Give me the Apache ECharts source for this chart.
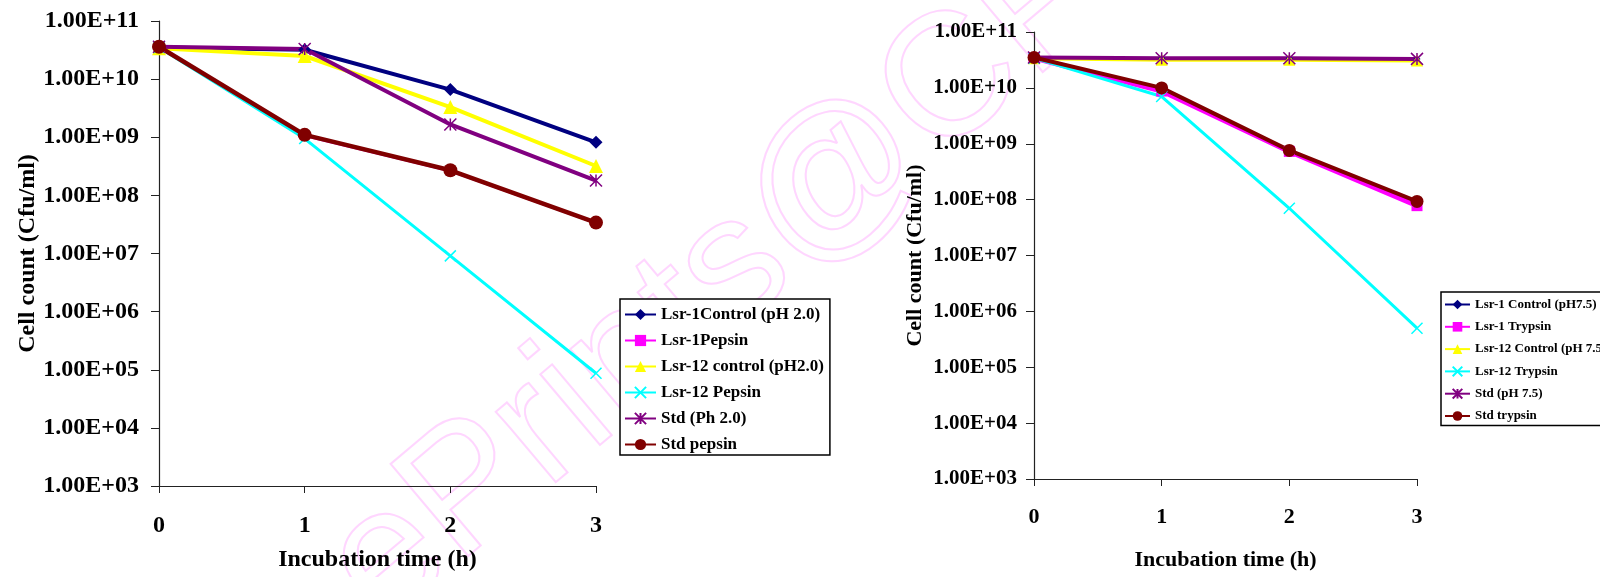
<!DOCTYPE html>
<html>
<head>
<meta charset="utf-8">
<script src="https://cdn.jsdelivr.net/npm/echarts@6/dist/echarts.min.js"></script>
<style>
  html, body { margin: 0; padding: 0; background: #fff; }
  #main { width: 1600px; height: 577px; }
</style>
</head>
<body>
<div id="main"></div>
<script>
// incubation time (h)
var hours = [0, 1, 2, 3];
var yTickLabels = ["1.00E+03", "1.00E+04", "1.00E+05", "1.00E+06", "1.00E+07",
  "1.00E+08", "1.00E+09", "1.00E+10", "1.00E+11"];

// left panel: pepsin, pH 2.0 (Cfu/ml)
var leftNames = ["Lsr-1Control (pH 2.0)", "Lsr-1Pepsin", "Lsr-12 control (pH2.0)",
  "Lsr-12 Pepsin", "Std (Ph 2.0)", "Std pepsin"];
var lsr1ControlPH2 = [3.5e10, 3.2e10, 6.6e9, 8.2e8];
var lsr1Pepsin = [3.5e10, 1.05e9, 2.6e8, 3.3e7];
var lsr12ControlPH2 = [3.4e10, 2.5e10, 3.3e9, 3.2e8];
var lsr12Pepsin = [3.5e10, 9.5e8, 9.1e6, 8.7e4];
var stdPH2 = [3.6e10, 3.3e10, 1.66e9, 1.8e8];
var stdPepsin = [3.6e10, 1.1e9, 2.7e8, 3.4e7];

// right panel: trypsin, pH 7.5 (Cfu/ml)
var rightNames = ["Lsr-1 Control (pH7.5)", "Lsr-1 Trypsin", "Lsr-12 Control (pH 7.5)",
  "Lsr-12 Trypsin", "Std (pH 7.5)", "Std trypsin"];
var lsr1ControlPH75 = [3.5e10, 3.4e10, 3.4e10, 3.3e10];
var lsr1Trypsin = [3.4e10, 8.8e9, 7.3e8, 7.8e7];
var lsr12ControlPH75 = [3.4e10, 3.2e10, 3.2e10, 3.1e10];
var lsr12Trypsin = [3.4e10, 7.0e9, 7.0e7, 5.0e5];
var stdPH75 = [3.5e10, 3.4e10, 3.4e10, 3.3e10];
var stdTrypsin = [3.5e10, 1.0e10, 7.6e8, 9.3e7];

var FONT = "'Liberation Serif', 'Times New Roman', serif";
var crossPath = "path://M0,0L10,10M10,0L0,10";
var starPath = "path://M0,0L10,10M10,0L0,10M5,0L5,10";

function pairs(vals) {
  return hours.map(function (h, i) { return [h, vals[i]]; });
}

function logLabel(v) {
  var e = Math.round(Math.log10(v));
  return yTickLabels[e - 3] || "";
}

function xAxisFor(idx, labelSize, nameSize, margin, nameGap) {
  return {
    gridIndex: idx, type: "value", min: 0, max: 3, interval: 1,
    name: "Incubation time (h)", nameLocation: "middle", nameGap: nameGap,
    nameTextStyle: { fontFamily: FONT, fontWeight: "bold", fontSize: nameSize, color: "#000" },
    axisLine: { lineStyle: { color: "#222", width: 1.2 } },
    axisTick: { show: true, length: 7, lineStyle: { color: "#222" } },
    axisLabel: { fontFamily: FONT, fontWeight: "bold", fontSize: labelSize, color: "#000", margin: margin },
    splitLine: { show: false }
  };
}

function yAxisFor(idx, labelSize, nameSize, margin, nameGap) {
  return {
    gridIndex: idx, type: "log", logBase: 10, min: 1e3, max: 1e11, splitNumber: 8,
    name: "Cell count (Cfu/ml)", nameLocation: "middle", nameGap: nameGap,
    nameTextStyle: { fontFamily: FONT, fontWeight: "bold", fontSize: nameSize, color: "#000" },
    axisLine: { show: true, lineStyle: { color: "#222", width: 1.2 } },
    axisTick: { show: true, length: 8, lineStyle: { color: "#222" } },
    minorTick: { show: false },
    axisLabel: { fontFamily: FONT, fontWeight: "bold", fontSize: labelSize, color: "#000", margin: margin, formatter: logLabel },
    splitLine: { show: false }
  };
}

function line(name, vals, idx, color, width, symbol, size, stroke) {
  var s = {
    name: name, type: "line", xAxisIndex: idx, yAxisIndex: idx,
    data: pairs(vals), clip: false,
    symbol: symbol, symbolSize: size, showAllSymbol: true,
    lineStyle: { color: color, width: width },
    itemStyle: { color: color }
  };
  if (stroke) {
    s.itemStyle = { color: color, borderColor: color, borderWidth: stroke };
  }
  return s;
}

var myChart = echarts.init(document.getElementById("main"));

var option = {
  backgroundColor: "#fff",
  animation: false,
  // faint repository watermark behind the plots
  graphic: [{
    type: "text", x: 408, y: 658, rotation: 0.70, z: -10, silent: true,
    style: {
      text: "ePrints@CFTRI", fontFamily: "'Liberation Sans', Arial, sans-serif",
      fontSize: 175, fill: "rgba(0,0,0,0)", stroke: "#ffd6ff", lineWidth: 2,
      align: "left", verticalAlign: "bottom"
    }
  }],
  grid: [
    { left: 159, top: 21, width: 437, height: 470 },
    { left: 1034, top: 32, width: 383, height: 447 }
  ],
  xAxis: [
    xAxisFor(0, 24, 24, 28, 62),
    xAxisFor(1, 22, 22, 27, 70)
  ],
  yAxis: [
    yAxisFor(0, 24, 24, 20, 118),
    yAxisFor(1, 21, 22, 17, 108)
  ],
  legend: [
    {
      data: leftNames, orient: "vertical", left: 620, top: 299,
      padding: [7, 6, 2, 4], itemWidth: 31, itemHeight: 14, itemGap: 9,
      borderColor: "#000", borderWidth: 1.5, backgroundColor: "#fff",
      textStyle: { fontFamily: FONT, fontWeight: "bold", fontSize: 17, color: "#000" }
    },
    {
      data: rightNames, orient: "vertical", left: 1441, top: 292,
      padding: [6, 6, 3, 3], itemWidth: 25, itemHeight: 12, itemGap: 9.3,
      borderColor: "#000", borderWidth: 1.5, backgroundColor: "#fff",
      textStyle: { fontFamily: FONT, fontWeight: "bold", fontSize: 13, color: "#000" }
    }
  ],
  series: [
    line(leftNames[0], lsr1ControlPH2, 0, "#000080", 4, "diamond", 13),
    line(leftNames[1], lsr1Pepsin, 0, "#ff00ff", 2, "rect", 7),
    line(leftNames[2], lsr12ControlPH2, 0, "#ffff00", 4, "triangle", 14),
    line(leftNames[3], lsr12Pepsin, 0, "#00ffff", 3, crossPath, 11, 1.5),
    line(leftNames[4], stdPH2, 0, "#800080", 4, starPath, 12, 1.5),
    line(leftNames[5], stdPepsin, 0, "#800000", 4.5, "circle", 14),

    line(rightNames[0], lsr1ControlPH75, 1, "#000080", 1.5, "diamond", 7),
    line(rightNames[1], lsr1Trypsin, 1, "#ff00ff", 5, "rect", 11),
    line(rightNames[2], lsr12ControlPH75, 1, "#ffff00", 4, "triangle", 12),
    line(rightNames[3], lsr12Trypsin, 1, "#00ffff", 3, crossPath, 11, 1.5),
    line(rightNames[4], stdPH75, 1, "#800080", 4, starPath, 12, 1.5),
    line(rightNames[5], stdTrypsin, 1, "#800000", 4, "circle", 13)
  ]
};

myChart.setOption(option);
</script>
</body>
</html>
